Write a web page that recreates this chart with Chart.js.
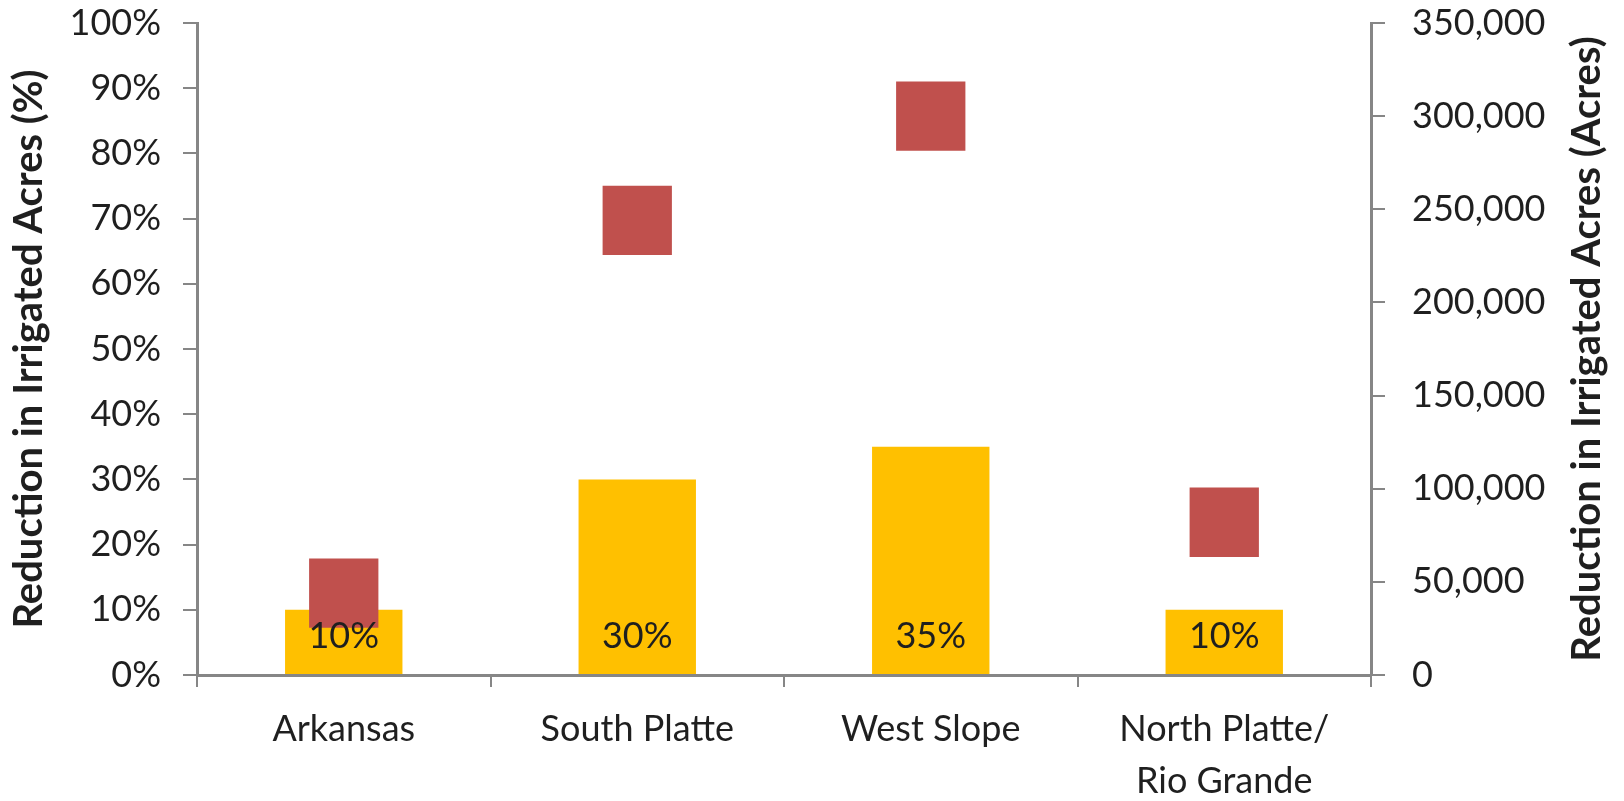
<!DOCTYPE html>
<html>
<head>
<meta charset="utf-8">
<script src="https://cdn.jsdelivr.net/npm/chart.js@4.4.1/dist/chart.umd.min.js"></script>
<style>
  html, body { margin: 0; padding: 0; background: #fff; }
  #wrap { width: 1624px; height: 801px; overflow: hidden; }
  /* chart.js reserves tick padding above the top label; pull the canvas up to cancel it */
  #chart { display: block; margin-top: -26px; }
</style>
</head>
<body>
<div id="wrap"><canvas id="chart" width="1624" height="827"></canvas></div>
<script>
// data
const regions = ["Arkansas", "South Platte", "West Slope", ["North Platte/", "Rio Grande"]];
const reduction_pct = [10, 30, 35, 10];
const reduction_acres = [44000, 244000, 300000, 82000];

const AXIS_GRAY = '#868686';
const TEXT = '#1f1f1f';
const FONT = 'Lato';
const RIGHT_TITLE = 'Reduction in Irrigated Acres (Acres)';

// percent labels near the base of each bar
const barLabels = {
  id: 'barLabels',
  afterDatasetsDraw(chart) {
    const ctx = chart.ctx;
    const meta = chart.getDatasetMeta(0);
    ctx.save();
    ctx.font = '36px ' + FONT;
    ctx.fillStyle = TEXT;
    ctx.textAlign = 'center';
    ctx.textBaseline = 'middle';
    meta.data.forEach((bar, i) => {
      ctx.fillText(reduction_pct[i] + '%', bar.x, bar.base - 38);
    });
    ctx.restore();
  }
};

// right axis title reads bottom to top, like the left one
const rightTitle = {
  id: 'rightTitle',
  afterDraw(chart) {
    const ctx = chart.ctx;
    const area = chart.chartArea;
    ctx.save();
    ctx.translate(1587, (area.top + area.bottom) / 2);
    ctx.rotate(-Math.PI / 2);
    ctx.font = 'bold 40px ' + FONT;
    ctx.fillStyle = TEXT;
    ctx.textAlign = 'center';
    ctx.textBaseline = 'middle';
    ctx.fillText(RIGHT_TITLE, 0, 0);
    ctx.restore();
  }
};

function fixWidth(w) {
  return function(scale) { scale.width = w; };
}

new Chart(document.getElementById('chart'), {
  type: 'bar',
  data: {
    labels: regions,
    datasets: [
      {
        label: 'Reduction (%)',
        data: reduction_pct,
        backgroundColor: '#FFC000',
        yAxisID: 'y',
        categoryPercentage: 1,
        barPercentage: 0.4,
        order: 1
      },
      {
        type: 'line',
        label: 'Reduction (Acres)',
        data: reduction_acres,
        yAxisID: 'y1',
        showLine: false,
        pointStyle: 'rect',
        pointRadius: 49,
        pointHoverRadius: 49,
        pointBackgroundColor: '#C0504D',
        pointBorderWidth: 0,
        order: 0
      }
    ]
  },
  options: {
    responsive: false,
    animation: false,
    layout: { padding: 0 },
    plugins: {
      legend: { display: false },
      tooltip: { enabled: false }
    },
    scales: {
      x: {
        grid: { offset: true, drawOnChartArea: false, tickLength: 12, color: AXIS_GRAY, lineWidth: 2 },
        border: { color: AXIS_GRAY, width: 3 },
        ticks: { color: TEXT, padding: 16, font: { family: FONT, size: 36, lineHeight: 1.45 }, maxRotation: 0 },
        afterFit(scale) { scale.height = 126; }
      },
      y: {
        position: 'left',
        min: 0,
        max: 100,
        ticks: {
          stepSize: 10,
          color: TEXT,
          padding: 22,
          font: { family: FONT, size: 36 },
          callback: v => v + '%'
        },
        grid: { drawOnChartArea: false, tickLength: 14, color: AXIS_GRAY, lineWidth: 2 },
        border: { color: AXIS_GRAY, width: 3 },
        title: {
          display: true,
          text: 'Reduction in Irrigated Acres (%)',
          color: TEXT,
          font: { family: FONT, size: 40, weight: 'bold' },
          padding: { top: 5, bottom: 0 }
        },
        afterFit: fixWidth(197)
      },
      y1: {
        position: 'right',
        min: 0,
        max: 350000,
        ticks: {
          stepSize: 50000,
          color: TEXT,
          padding: 27,
          font: { family: FONT, size: 36 },
          callback: v => v.toLocaleString('en-US')
        },
        grid: { drawOnChartArea: false, tickLength: 14, color: AXIS_GRAY, lineWidth: 2 },
        border: { color: AXIS_GRAY, width: 3 },
        afterFit: fixWidth(253)
      }
    }
  },
  plugins: [barLabels, rightTitle]
});
</script>
</body>
</html>
